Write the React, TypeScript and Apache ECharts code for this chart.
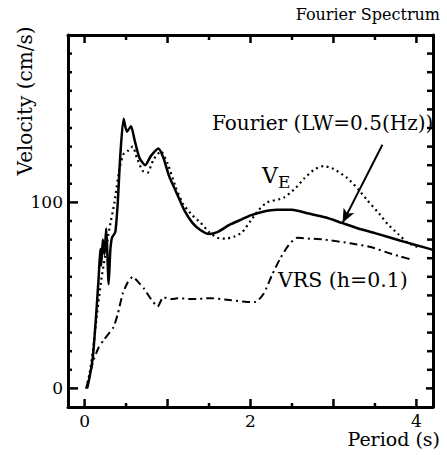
import React, { useEffect, useRef } from "react";
import * as echarts from "echarts";

// Period (s) / Velocity (cm/s)
const fourierData: [number, number][] = [
  [0.03, 0], [0.06, 6], [0.1, 17], [0.14, 40], [0.17, 60], [0.19, 75], [0.2, 66], [0.22, 80],
  [0.24, 72], [0.26, 86], [0.27, 78], [0.29, 56], [0.31, 74], [0.33, 81], [0.37, 84], [0.4, 100],
  [0.43, 125], [0.47, 145], [0.51, 138], [0.56, 141], [0.6, 134], [0.66, 124], [0.73, 120],
  [0.8, 125], [0.89, 129], [0.95, 124], [1.02, 114], [1.1, 106], [1.2, 96], [1.3, 89], [1.4, 85],
  [1.5, 83], [1.6, 84], [1.75, 88], [1.9, 91], [2.0, 93], [2.15, 95], [2.32, 96], [2.5, 96],
  [2.7, 94], [2.9, 92], [3.1, 89], [3.3, 86], [3.5, 83.5], [3.8, 79.5], [4.0, 77], [4.2, 74.5],
];

const veData: [number, number][] = [
  [0.02, 0], [0.06, 8], [0.1, 20], [0.15, 40], [0.2, 58], [0.25, 72], [0.3, 86], [0.36, 100],
  [0.42, 118], [0.47, 126], [0.53, 128], [0.58, 130], [0.63, 124], [0.7, 117], [0.76, 116],
  [0.83, 123], [0.92, 127.5], [1.0, 121], [1.1, 108], [1.19, 99], [1.3, 93], [1.4, 89], [1.5, 84],
  [1.6, 81], [1.7, 80.5], [1.8, 81.5], [1.9, 84], [2.0, 90], [2.1, 96], [2.2, 100], [2.4, 102.5],
  [2.55, 108], [2.65, 113], [2.78, 118], [2.88, 119.5], [3.0, 118], [3.17, 113], [3.3, 107],
  [3.41, 101], [3.55, 94], [3.65, 88.5], [3.78, 83], [3.89, 78.5], [4.01, 76],
];

const vrsData: [number, number][] = [
  [0.02, 0], [0.06, 7], [0.11, 15.5], [0.17, 22], [0.23, 26], [0.3, 30], [0.35, 33], [0.4, 40],
  [0.46, 51], [0.52, 57], [0.58, 60], [0.65, 57], [0.71, 54], [0.8, 48], [0.88, 44], [0.95, 49],
  [1.05, 48], [1.12, 48.5], [1.3, 48], [1.52, 48.5], [1.75, 47.5], [1.96, 46.5], [2.06, 46.5],
  [2.16, 51], [2.26, 61], [2.36, 70], [2.46, 77], [2.56, 81], [2.72, 80.5], [2.9, 80], [3.2, 78],
  [3.45, 76], [3.65, 73], [3.8, 71], [3.96, 69],
];

const arrowStart: [number, number] = [3.59, 131];
const arrowEnd: [number, number] = [3.11, 89];

const X_MIN = -0.2;
const X_MAX = 4.2;
const Y_MIN = -10;
const Y_MAX = 190;
const xMajorTicks = [0, 1, 2, 3, 4];
const xMinorTicks = [0.5, 1.5, 2.5, 3.5];
const xLabels = [0, 2, 4];
const yMajorTicks = [0, 100];
const yMinorTicks = [10, 20, 30, 40, 50, 60, 70, 80, 90, 110, 120, 130, 140, 150, 160, 170, 180];
const yLabels = [0, 100];

const FONT = "DejaVu Serif";
const GRID = { left: 68, top: 35, right: 14, bottom: 48 };

const textGraphics = [
  { type: "text", right: 7, top: 6, style: { text: "Fourier Spectrum", fontFamily: FONT, fontSize: 16, fill: "#000" } },
  { type: "text", right: 7, top: 429, style: { text: "Period (s)", fontFamily: FONT, fontSize: 19, fill: "#000" } },
  {
    type: "text", x: 25, y: 101, rotation: Math.PI / 2,
    style: { text: "Velocity (cm/s)", fontFamily: FONT, fontSize: 20, fill: "#000", align: "center", verticalAlign: "middle" },
  },
  { type: "text", x: 212, y: 123, style: { text: "Fourier (LW=0.5(Hz))", fontFamily: FONT, fontSize: 20, fill: "#000", verticalAlign: "middle" } },
  { type: "text", x: 262, y: 175, style: { text: "V", fontFamily: FONT, fontSize: 22, fill: "#000", verticalAlign: "middle" } },
  { type: "text", x: 278, y: 182, style: { text: "E", fontFamily: FONT, fontSize: 17, fill: "#000", verticalAlign: "middle" } },
  { type: "text", x: 278, y: 280, style: { text: "VRS (h=0.1)", fontFamily: FONT, fontSize: 20.5, fill: "#000", verticalAlign: "middle" } },
];

export default function App() {
  const ref = useRef<HTMLDivElement>(null);
  useEffect(() => {
    if (!ref.current) return;
    const chart = echarts.init(ref.current, null, { renderer: "svg" });
    const frameLine = { show: true, onZero: false, lineStyle: { color: "#000", width: 3 } };
    const label = { color: "#000", fontFamily: FONT, fontSize: 17, margin: 5 };

    const option: any = {
      animation: false,
      backgroundColor: "#fff",
      grid: { ...GRID, containLabel: false },
      xAxis: [
        {
          type: "value", position: "bottom", min: X_MIN, max: X_MAX,
          axisLine: frameLine, axisTick: { show: false }, splitLine: { show: false },
          axisLabel: { show: true, customValues: xLabels, ...label },
        },
        {
          type: "value", position: "top", min: X_MIN, max: X_MAX,
          axisLine: frameLine, axisTick: { show: false }, splitLine: { show: false },
          axisLabel: { show: false },
        },
      ],
      yAxis: [
        {
          type: "value", position: "left", min: Y_MIN, max: Y_MAX,
          axisLine: frameLine, axisTick: { show: false }, splitLine: { show: false },
          axisLabel: { show: true, customValues: yLabels, ...label },
        },
        {
          type: "value", position: "right", min: Y_MIN, max: Y_MAX,
          axisLine: frameLine, axisTick: { show: false }, splitLine: { show: false },
          axisLabel: { show: false },
        },
      ],
      series: [
        {
          type: "line",
          name: "Fourier",
          data: fourierData,
          symbol: "none",
          smooth: 0.2,
          lineStyle: { color: "#000", width: 2.5 },
          markLine: {
            silent: true,
            symbol: ["none", "arrow"],
            symbolSize: [9, 14],
            label: { show: false },
            lineStyle: { color: "#000", width: 2, type: "solid" },
            data: [[{ coord: arrowStart }, { coord: arrowEnd }]],
          },
        },
        {
          type: "line",
          name: "VE",
          data: veData,
          symbol: "none",
          smooth: 0.2,
          lineStyle: { color: "#000", width: 2.2, type: [2, 3.5] },
        },
        {
          type: "line",
          name: "VRS",
          data: vrsData,
          symbol: "none",
          smooth: 0.2,
          lineStyle: { color: "#000", width: 2, type: [8, 4, 2, 4] },
        },
      ],
      graphic: textGraphics,
    };
    chart.setOption(option);

    // tick marks, placed through the grid's own scales
    const toPx = (p: [number, number]) => chart.convertToPixel({ gridIndex: 0 }, p) as number[];
    const tickLines: any[] = [];
    const seg = (x1: number, y1: number, x2: number, y2: number) =>
      tickLines.push({
        type: "line", silent: true, z: 10,
        shape: { x1, y1, x2, y2 },
        style: { stroke: "#000", lineWidth: 2.5 },
      });
    const addX = (vals: number[], lb: number, lt: number) =>
      vals.forEach((v) => {
        const b = toPx([v, Y_MIN]);
        const t = toPx([v, Y_MAX]);
        seg(b[0], b[1], b[0], b[1] - lb);
        seg(t[0], t[1], t[0], t[1] + lt);
      });
    const addY = (vals: number[], ll: number, lr: number) =>
      vals.forEach((v) => {
        const l = toPx([X_MIN, v]);
        const r = toPx([X_MAX, v]);
        seg(l[0], l[1], l[0] + ll, l[1]);
        seg(r[0], r[1], r[0] - lr, r[1]);
      });
    addX(xMajorTicks, 8, 8);
    addX(xMinorTicks, 4, 5);
    addY(yMajorTicks, 10, 7);
    addY(yMinorTicks, 4, 6);
    chart.setOption({ graphic: [...textGraphics, ...tickLines] });

    return () => chart.dispose();
  }, []);
  return <div ref={ref} style={{ position: "absolute", left: 0, top: 0, width: 447, height: 455 }} />;
}
